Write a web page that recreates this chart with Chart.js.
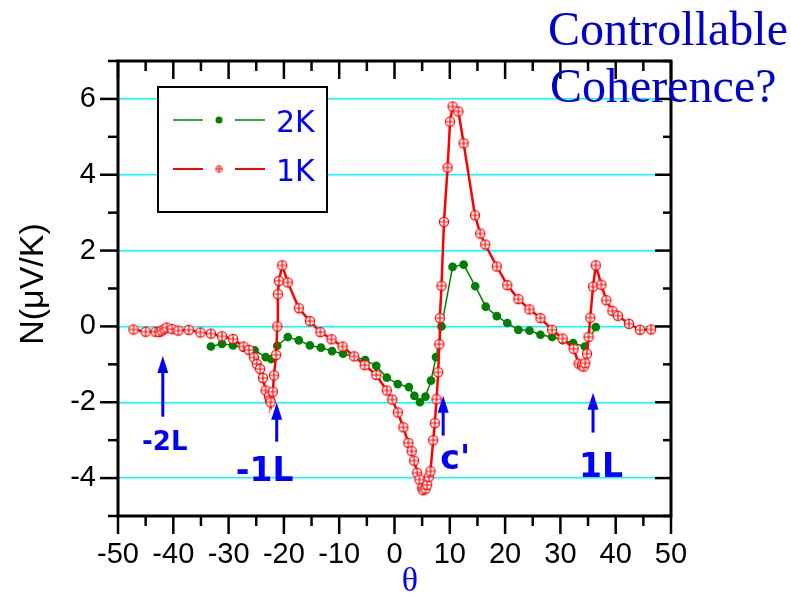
<!DOCTYPE html>
<html>
<head>
<meta charset="utf-8">
<script src="https://cdn.jsdelivr.net/npm/chart.js@4.4.1/dist/chart.umd.min.js"></script>
<style>
  html, body { margin: 0; padding: 0; background: #fff; }
  #wrap { width: 791px; height: 597px; }
</style>
</head>
<body>
<div id="wrap"><canvas id="myChart" width="791" height="597"></canvas></div>
<script>
// angle theta (deg) and Nernst signal N (uV/K)
const theta1K = [-47.2, -45.0, -43.2, -42.5, -42.1, -41.6, -41.2, -40.2, -39.1, -37.2,
  -35.1, -33.2, -31.2, -29.2, -27.3, -26.3, -25.4, -24.9, -24.3, -23.8,
  -23.3, -22.7, -22.5, -22.4, -22.0, -21.8, -21.4, -21.2, -21.1, -20.9,
  -20.3, -19.3, -17.3, -15.3, -13.4, -11.4, -9.4, -7.3, -5.4, -3.3,
  -1.4, -0.4, 0.6, 1.6, 2.5, 3.1, 3.55, 4.1, 4.5, 5.0,
  5.2, 5.6, 5.9, 6.2, 6.5, 7.0, 7.3, 7.6, 7.9, 8.1,
  8.2, 8.5, 8.95, 9.6, 10.05, 10.5, 11.55, 12.5, 14.55, 15.5,
  16.4, 18.5, 20.4, 22.4, 24.4, 26.4, 28.5, 30.4, 32.4, 33.3,
  33.9, 34.2, 34.5, 34.8, 35.1, 35.4, 35.9, 36.4, 37.4, 38.3,
  39.4, 40.4, 42.4, 44.4, 46.4];
const n1K = [-0.08, -0.14, -0.14, -0.15, -0.11, -0.07, -0.03, -0.07, -0.11, -0.09,
  -0.16, -0.19, -0.26, -0.33, -0.53, -0.62, -0.82, -0.99, -1.12, -1.36,
  -1.69, -1.85, -1.95, -2.0, -1.72, -1.29, -0.75, 0.0, 0.85, 1.2,
  1.61, 1.16, 0.48, 0.14, -0.15, -0.34, -0.53, -0.79, -1.02, -1.28,
  -1.69, -1.93, -2.27, -2.66, -3.07, -3.29, -3.54, -3.86, -4.04, -4.26,
  -4.32, -4.28, -4.18, -3.97, -3.82, -3.0, -2.55, -1.92, -1.21, -0.47,
  0.22, 1.07, 2.76, 4.19, 5.40, 5.80, 5.67, 4.83, 2.93, 2.45,
  2.16, 1.58, 1.09, 0.72, 0.45, 0.22, -0.09, -0.32, -0.59, -0.98,
  -1.03, -1.06, -0.97, -0.72, -0.28, 0.23, 1.05, 1.61, 1.1, 0.69,
  0.41, 0.28, 0.07, -0.09, -0.08];

const theta2K = [-33.2, -31.2, -29.2, -27.3, -25.3, -23.3, -22.3, -21.2, -19.3, -17.3,
  -15.3, -13.3, -11.3, -9.3, -7.2, -5.3, -3.3, -1.4, 0.6, 2.6,
  3.6, 4.6, 5.6, 6.6, 7.5, 8.5, 10.5, 12.5, 14.6, 16.5,
  18.5, 20.4, 22.4, 24.4, 26.4, 28.5, 30.4, 32.3, 34.4, 36.4];
const n2K = [-0.53, -0.46, -0.50, -0.56, -0.63, -0.81, -0.86, -0.51, -0.28, -0.37,
  -0.50, -0.56, -0.65, -0.72, -0.80, -0.89, -1.04, -1.35, -1.52, -1.60,
  -1.83, -2.0, -1.85, -1.43, -0.81, 0.0, 1.57, 1.63, 1.06, 0.52,
  0.27, 0.09, -0.09, -0.11, -0.22, -0.28, -0.36, -0.44, -0.53, -0.02];

const xTicks = [-50, -40, -30, -20, -10, 0, 10, 20, 30, 40, 50];
const xMinor = [-45, -35, -25, -15, -5, 5, 15, 25, 35, 45];
const yTicks = [-4, -2, 0, 2, 4, 6];
const yMinor = [-5, -3, -1, 1, 3, 5, 7];

// annotation arrows (data coords) and their labels
const arrows = [
  { x: -41.9, from: -2.38, to: -0.78, text: '-2L', dx: 2, dy: 27, size: 26 },
  { x: -21.3, from: -3.04, to: -2.01, text: '-1L', dx: -12, dy: 31, size: 33 },
  { x: 8.8, from: -2.88, to: -1.83, text: "c'", dx: 12, dy: 25, size: 33 },
  { x: 35.9, from: -2.80, to: -1.75, text: '1L', dx: 8, dy: 36, size: 33 }
];

const RED = '#ff0000';
const GREEN = '#008000';
const BLUE = '#0000ff';
const LABEL_FONT = '"Comic Sans MS", "DejaVu Sans", sans-serif';

// circle with a cross inside, like Origin's marker
function crossCircle(r, lw) {
  const s = Math.ceil(r * 2 + lw * 2 + 2);
  const c = document.createElement('canvas');
  c.width = s; c.height = s;
  const g = c.getContext('2d');
  const m = s / 2;
  g.fillStyle = '#fff';
  g.strokeStyle = RED;
  g.lineWidth = lw;
  g.beginPath(); g.arc(m, m, r, 0, Math.PI * 2); g.fill(); g.stroke();
  g.beginPath();
  g.moveTo(m - r, m); g.lineTo(m + r, m);
  g.moveTo(m, m - r); g.lineTo(m, m + r);
  g.stroke();
  return c;
}
const redMarker = crossCircle(4.6, 1.2);
const redMarkerSmall = crossCircle(3.2, 1);

function seg(ctx, x1, y1, x2, y2) {
  ctx.beginPath(); ctx.moveTo(x1, y1); ctx.lineTo(x2, y2); ctx.stroke();
}

const decor = {
  id: 'decor',
  afterDatasetsDraw(chart) {
    const { ctx, chartArea: a, scales: { x, y } } = chart;
    ctx.save();

    // frame
    ctx.strokeStyle = '#000';
    ctx.lineWidth = 3;
    ctx.strokeRect(a.left, a.top, a.right - a.left, a.bottom - a.top);

    // tick marks: out on bottom/left, in on top/right
    ctx.lineWidth = 2.5;
    xTicks.forEach(v => {
      const px = x.getPixelForValue(v);
      seg(ctx, px, a.bottom, px, a.bottom + 18);
      seg(ctx, px, a.top, px, a.top + 18);
    });
    xMinor.forEach(v => {
      const px = x.getPixelForValue(v);
      seg(ctx, px, a.bottom, px, a.bottom + 10);
      seg(ctx, px, a.top, px, a.top + 10);
    });
    yTicks.forEach(v => {
      const py = y.getPixelForValue(v);
      seg(ctx, a.left - 18, py, a.left, py);
      seg(ctx, a.right - 16, py, a.right, py);
    });
    yMinor.forEach(v => {
      const py = y.getPixelForValue(v);
      seg(ctx, a.left - 10, py, a.left, py);
      seg(ctx, a.right - 8, py, a.right, py);
    });

    // arrows + labels
    ctx.strokeStyle = BLUE;
    ctx.fillStyle = BLUE;
    arrows.forEach(ar => {
      const px = x.getPixelForValue(ar.x);
      const y0 = y.getPixelForValue(ar.from);
      const y1 = y.getPixelForValue(ar.to);
      ctx.lineWidth = 3;
      seg(ctx, px, y0, px, y1 + 12);
      ctx.beginPath();
      ctx.moveTo(px, y1);
      ctx.lineTo(px - 5.5, y1 + 17);
      ctx.lineTo(px + 5.5, y1 + 17);
      ctx.closePath();
      ctx.fill();
      ctx.font = 'bold ' + ar.size + 'px ' + LABEL_FONT;
      ctx.textAlign = 'center';
      ctx.textBaseline = 'middle';
      ctx.fillText(ar.text, px + ar.dx, y0 + ar.dy);
    });

    // legend box
    const L = { left: 158, top: 87, w: 169, h: 125 };
    ctx.fillStyle = '#fff';
    ctx.fillRect(L.left, L.top, L.w, L.h);
    ctx.strokeStyle = '#000';
    ctx.lineWidth = 2;
    ctx.strokeRect(L.left, L.top, L.w, L.h);

    const rows = [
      { ds: chart.data.datasets[1], y: 120, lw: 1.5 },
      { ds: chart.data.datasets[0], y: 169, lw: 2 }
    ];
    rows.forEach(r => {
      ctx.strokeStyle = r.ds.borderColor;
      ctx.lineWidth = r.lw;
      seg(ctx, 173, r.y, 203, r.y);
      seg(ctx, 235, r.y, 265, r.y);
      if (r.ds.label === '1K') {
        ctx.drawImage(redMarkerSmall, 219 - redMarkerSmall.width / 2, r.y - redMarkerSmall.height / 2);
      } else {
        ctx.fillStyle = r.ds.borderColor;
        ctx.beginPath(); ctx.arc(219, r.y, 3.5, 0, Math.PI * 2); ctx.fill();
      }
      ctx.fillStyle = BLUE;
      ctx.font = '30px ' + LABEL_FONT;
      ctx.textAlign = 'left';
      ctx.textBaseline = 'middle';
      ctx.fillText(r.ds.label, 276, r.y + 4);
    });

    // axis titles
    ctx.fillStyle = '#000';
    ctx.font = '34px Arial, "Liberation Sans", sans-serif';
    ctx.textAlign = 'center';
    ctx.textBaseline = 'middle';
    ctx.save();
    ctx.translate(34, 284);
    ctx.rotate(-Math.PI / 2);
    ctx.fillText('N(\u03bcV/K)', 0, 0);
    ctx.restore();

    ctx.fillStyle = BLUE;
    ctx.font = '34px "Times New Roman", "Liberation Serif", serif';
    ctx.fillText('\u03b8', 410, 582);

    // title in the corner
    ctx.fillStyle = '#0000cc';
    ctx.font = '48px "Times New Roman", "Liberation Serif", serif';
    ctx.textAlign = 'left';
    ctx.textBaseline = 'alphabetic';
    ctx.fillText('Controllable', 548, 45);
    ctx.fillText('Coherence?', 550, 102);

    ctx.restore();
  }
};

const tickFont = { family: 'Arial, "Liberation Sans", sans-serif', size: 29 };

new Chart(document.getElementById('myChart'), {
  type: 'line',
  data: {
    datasets: [
      {
        label: '1K',
        data: theta1K.map((t, i) => ({ x: t, y: n1K[i] })),
        borderColor: RED,
        borderWidth: 2.5,
        pointStyle: redMarker,
        pointRadius: 5,
        tension: 0
      },
      {
        label: '2K',
        data: theta2K.map((t, i) => ({ x: t, y: n2K[i] })),
        borderColor: GREEN,
        borderWidth: 1.5,
        backgroundColor: GREEN,
        pointBackgroundColor: GREEN,
        pointBorderColor: GREEN,
        pointRadius: 3.6,
        tension: 0
      }
    ]
  },
  options: {
    responsive: false,
    animation: false,
    devicePixelRatio: 1,
    layout: { padding: { left: 0, top: 61, right: 120, bottom: 0 } },
    plugins: { legend: { display: false }, tooltip: { enabled: false } },
    scales: {
      x: {
        type: 'linear',
        min: -50,
        max: 50,
        afterBuildTicks: s => { s.ticks = xTicks.map(v => ({ value: v })); },
        afterFit: s => { s.height = 81; },
        grid: { display: false, drawTicks: false },
        border: { display: false },
        ticks: { font: tickFont, color: '#000', padding: 22, maxRotation: 0, autoSkip: false }
      },
      y: {
        type: 'linear',
        min: -5,
        max: 7,
        afterBuildTicks: s => { s.ticks = yTicks.map(v => ({ value: v })); },
        afterFit: s => { s.width = 118; },
        grid: { color: '#00ffff', lineWidth: 1.5, drawTicks: false },
        border: { display: false },
        ticks: { font: tickFont, color: '#000', padding: 22 }
      }
    }
  },
  plugins: [decor]
});
</script>
</body>
</html>
